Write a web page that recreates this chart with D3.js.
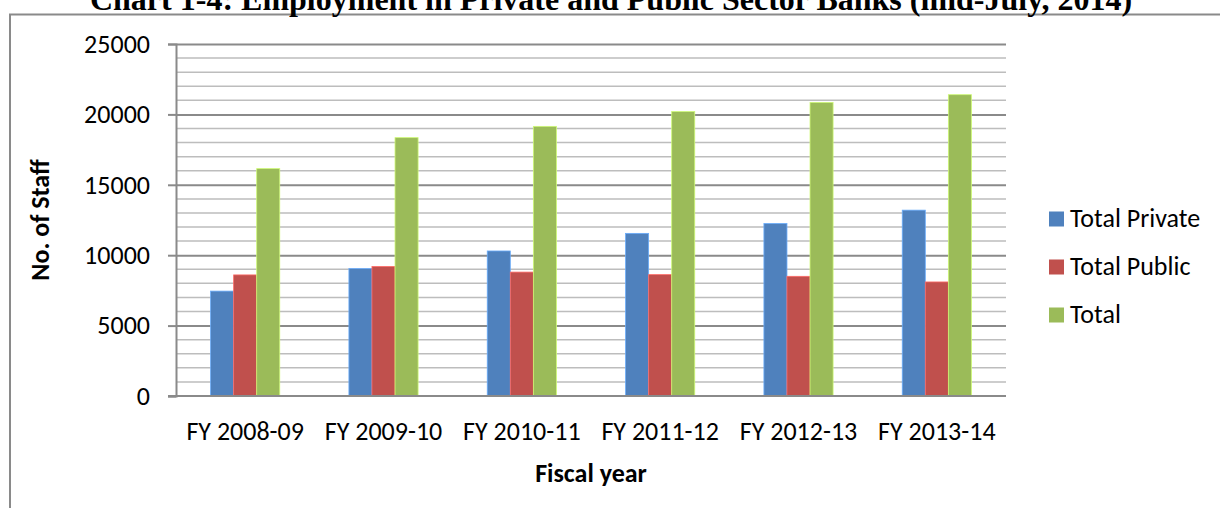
<!DOCTYPE html>
<html>
<head>
<meta charset="utf-8">
<script src="https://cdn.jsdelivr.net/npm/d3@7/dist/d3.min.js"></script>
<style>
  html, body { margin: 0; padding: 0; background: #fff; }
  svg { display: block; }
  .sans { font-family: Carlito, Lato, "Liberation Sans", sans-serif; fill: #000; }
  .serif { font-family: "Liberation Serif", "Times New Roman", serif; fill: #000; }
</style>
</head>
<body>
<svg id="chart" width="1220" height="508"></svg>
<script>
// Fiscal years on the category axis
const years = ["FY 2008-09", "FY 2009-10", "FY 2010-11", "FY 2011-12", "FY 2012-13", "FY 2013-14"];

// Staff counts per series
const totalPrivate = [7450, 9050, 10300, 11550, 12250, 13200];
const totalPublic  = [8600, 9200, 8800, 8620, 8500, 8100];
const totalAll     = [16150, 18350, 19150, 20200, 20850, 21400];

const seriesNames  = ["Total Private", "Total Public", "Total"];
const seriesColors = ["#4f81bd", "#c0504d", "#9bbb59"];
const yTicks = [0, 5000, 10000, 15000, 20000, 25000];

const series = [totalPrivate, totalPublic, totalAll];
const FS = 26;

const svg = d3.select("#chart");
const plot = { left: 176, right: 1006, top: 44, bottom: 396 };

// Outer frame (only top and left edges fall inside the view)
svg.append("path")
  .attr("d", "M10,508 V14.5 H1220")
  .attr("fill", "none")
  .attr("stroke", "#8a8a8a")
  .attr("stroke-width", 2);

// Scales
const y = d3.scaleLinear().domain([0, 25000]).range([plot.bottom, plot.top]);
const x0 = d3.scaleBand().domain(years).range([plot.left, plot.right]).padding(0);
const bw = x0.bandwidth();
const x1 = d3.scaleBand().domain(seriesNames).range([bw * 0.25, bw * 0.75]).padding(0);

// Minor gridlines every 1000
const minor = d3.range(1000, 25001, 1000).filter(v => v % 5000 !== 0);
svg.append("g").selectAll("line").data(minor).join("line")
  .attr("x1", plot.left).attr("x2", plot.right)
  .attr("y1", d => y(d)).attr("y2", d => y(d))
  .attr("stroke", "#bdbdbd").attr("stroke-width", 1.5);

// Major gridlines + y axis
const yAxis = d3.axisLeft(y).tickValues(yTicks).tickSize(8).tickPadding(18).tickFormat(d3.format("d"));
const gy = svg.append("g").attr("transform", `translate(${plot.left},0)`).call(yAxis);
gy.attr("font-family", null).attr("font-size", null);
gy.select(".domain").attr("stroke", "#8a8a8a").attr("stroke-width", 2);
gy.selectAll(".tick line").attr("stroke", "#8a8a8a").attr("stroke-width", 2);
gy.selectAll(".tick text").attr("class", "sans").style("font-size", FS + "px");
gy.selectAll(".tick").filter(d => d > 0).append("line")
  .attr("x1", 0).attr("x2", plot.right - plot.left)
  .attr("stroke", "#8a8a8a").attr("stroke-width", 2);

// Bars
const groups = svg.append("g").selectAll("g").data(years).join("g")
  .attr("transform", d => `translate(${x0(d)},0)`);
groups.selectAll("rect")
  .data((d, i) => seriesNames.map((name, s) => ({ name, value: series[s][i], color: seriesColors[s] })))
  .join("rect")
  .attr("x", d => x1(d.name))
  .attr("width", x1.bandwidth())
  .attr("y", d => y(d.value))
  .attr("height", d => y(0) - y(d.value))
  .attr("fill", d => d.color)
  .attr("stroke", d => d3.color(d.color).brighter(0.8))
  .attr("stroke-width", 0.8);

// X axis
const xAxis = d3.axisBottom(x0).tickSize(0).tickPadding(26);
const gx = svg.append("g").attr("transform", `translate(0,${plot.bottom})`).call(xAxis);
gx.attr("font-family", null).attr("font-size", null);
gx.select(".domain").remove();
gx.selectAll(".tick text").attr("class", "sans").style("font-size", FS + "px");
svg.append("line")
  .attr("x1", plot.left - 8).attr("x2", plot.right)
  .attr("y1", plot.bottom).attr("y2", plot.bottom)
  .attr("stroke", "#8a8a8a").attr("stroke-width", 2);

// Axis titles
svg.append("text").attr("class", "sans")
  .attr("x", (plot.left + plot.right) / 2).attr("y", 482)
  .attr("text-anchor", "middle").style("font-weight", "bold").style("font-size", FS + "px")
  .text("Fiscal year");
svg.append("text").attr("class", "sans")
  .attr("transform", `translate(49,${(plot.top + plot.bottom) / 2}) rotate(-90)`)
  .attr("text-anchor", "middle").style("font-weight", "bold").style("font-size", FS + "px")
  .text("No. of Staff");

// Legend
const legend = svg.append("g").attr("transform", "translate(1049,211.5)");
const li = legend.selectAll("g").data(seriesNames).join("g")
  .attr("transform", (d, i) => `translate(0,${i * 48})`);
li.append("rect").attr("width", 15).attr("height", 15).attr("fill", (d, i) => seriesColors[i]);
li.append("text").attr("class", "sans").attr("x", 21).attr("y", 15.5)
  .style("font-size", FS + "px").text(d => d);

// Chart title
svg.append("text").attr("class", "serif")
  .attr("x", 611).attr("y", 10)
  .attr("text-anchor", "middle")
  .style("font-weight", "bold").style("font-size", "32px")
  .text("Chart 1-4: Employment in Private and Public Sector Banks (mid-July, 2014)");
</script>
</body>
</html>
